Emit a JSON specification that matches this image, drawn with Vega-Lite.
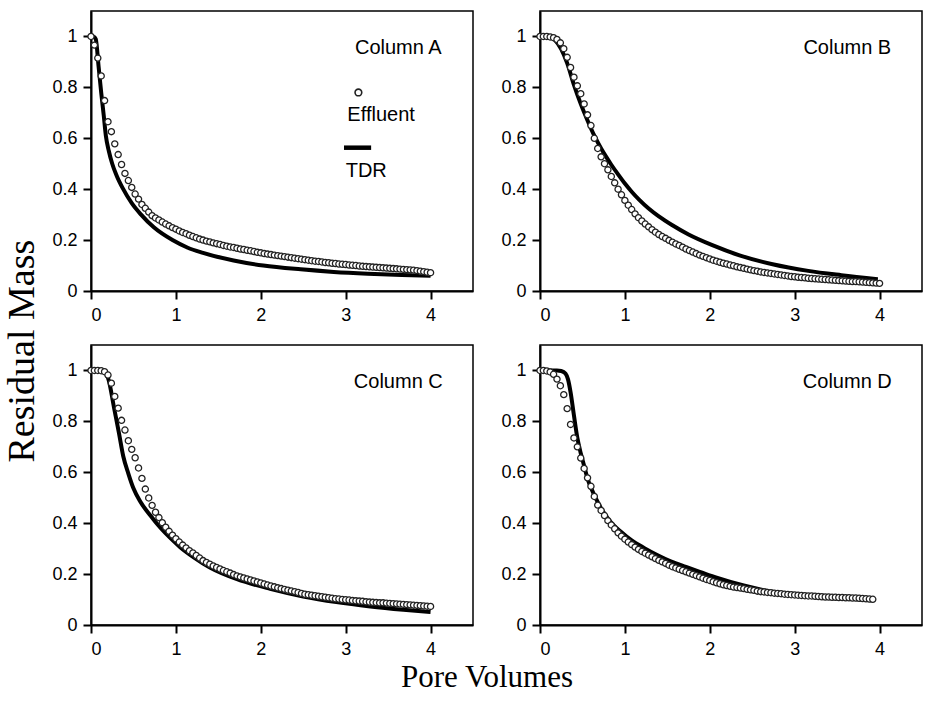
{
"$schema": "https://vega.github.io/schema/vega-lite/v6.json",
"background": "white",
"padding": {"left": 4, "top": 9, "right": 3, "bottom": 2},
"title": {"text": "Residual Mass", "orient": "left", "anchor": "middle", "font": "Liberation Serif", "fontSize": 38, "fontWeight": "normal", "color": "black", "offset": 9},
"data": {"values": [
{"p":"Column A","s":"Effluent","x":0,"y":1.0},{"p":"Column A","s":"Effluent","x":0.04,"y":0.966},{"p":"Column A","s":"Effluent","x":0.08,"y":0.915},{"p":"Column A","s":"Effluent","x":0.12,"y":0.845},{"p":"Column A","s":"Effluent","x":0.16,"y":0.748},{"p":"Column A","s":"Effluent","x":0.2,"y":0.665},{"p":"Column A","s":"Effluent","x":0.24,"y":0.626},{"p":"Column A","s":"Effluent","x":0.28,"y":0.578},{"p":"Column A","s":"Effluent","x":0.32,"y":0.536},{"p":"Column A","s":"Effluent","x":0.36,"y":0.497},{"p":"Column A","s":"Effluent","x":0.4,"y":0.462},{"p":"Column A","s":"Effluent","x":0.44,"y":0.434},{"p":"Column A","s":"Effluent","x":0.48,"y":0.407},{"p":"Column A","s":"Effluent","x":0.52,"y":0.381},{"p":"Column A","s":"Effluent","x":0.56,"y":0.361},{"p":"Column A","s":"Effluent","x":0.6,"y":0.34},{"p":"Column A","s":"Effluent","x":0.64,"y":0.325},{"p":"Column A","s":"Effluent","x":0.68,"y":0.31},{"p":"Column A","s":"Effluent","x":0.72,"y":0.296},{"p":"Column A","s":"Effluent","x":0.76,"y":0.287},{"p":"Column A","s":"Effluent","x":0.8,"y":0.279},{"p":"Column A","s":"Effluent","x":0.84,"y":0.271},{"p":"Column A","s":"Effluent","x":0.88,"y":0.263},{"p":"Column A","s":"Effluent","x":0.92,"y":0.256},{"p":"Column A","s":"Effluent","x":0.96,"y":0.249},{"p":"Column A","s":"Effluent","x":1,"y":0.243},{"p":"Column A","s":"Effluent","x":1.04,"y":0.236},{"p":"Column A","s":"Effluent","x":1.08,"y":0.23},{"p":"Column A","s":"Effluent","x":1.12,"y":0.225},{"p":"Column A","s":"Effluent","x":1.16,"y":0.219},{"p":"Column A","s":"Effluent","x":1.2,"y":0.214},{"p":"Column A","s":"Effluent","x":1.24,"y":0.209},{"p":"Column A","s":"Effluent","x":1.28,"y":0.204},{"p":"Column A","s":"Effluent","x":1.32,"y":0.2},{"p":"Column A","s":"Effluent","x":1.36,"y":0.196},{"p":"Column A","s":"Effluent","x":1.4,"y":0.193},{"p":"Column A","s":"Effluent","x":1.44,"y":0.189},{"p":"Column A","s":"Effluent","x":1.48,"y":0.186},{"p":"Column A","s":"Effluent","x":1.52,"y":0.183},{"p":"Column A","s":"Effluent","x":1.56,"y":0.179},{"p":"Column A","s":"Effluent","x":1.6,"y":0.176},{"p":"Column A","s":"Effluent","x":1.64,"y":0.173},{"p":"Column A","s":"Effluent","x":1.68,"y":0.171},{"p":"Column A","s":"Effluent","x":1.72,"y":0.168},{"p":"Column A","s":"Effluent","x":1.76,"y":0.165},{"p":"Column A","s":"Effluent","x":1.8,"y":0.163},{"p":"Column A","s":"Effluent","x":1.84,"y":0.16},{"p":"Column A","s":"Effluent","x":1.88,"y":0.158},{"p":"Column A","s":"Effluent","x":1.92,"y":0.155},{"p":"Column A","s":"Effluent","x":1.96,"y":0.152},{"p":"Column A","s":"Effluent","x":2,"y":0.15},{"p":"Column A","s":"Effluent","x":2.04,"y":0.147},{"p":"Column A","s":"Effluent","x":2.08,"y":0.145},{"p":"Column A","s":"Effluent","x":2.12,"y":0.143},{"p":"Column A","s":"Effluent","x":2.16,"y":0.141},{"p":"Column A","s":"Effluent","x":2.2,"y":0.139},{"p":"Column A","s":"Effluent","x":2.24,"y":0.137},{"p":"Column A","s":"Effluent","x":2.28,"y":0.135},{"p":"Column A","s":"Effluent","x":2.32,"y":0.133},{"p":"Column A","s":"Effluent","x":2.36,"y":0.131},{"p":"Column A","s":"Effluent","x":2.4,"y":0.129},{"p":"Column A","s":"Effluent","x":2.44,"y":0.127},{"p":"Column A","s":"Effluent","x":2.48,"y":0.125},{"p":"Column A","s":"Effluent","x":2.52,"y":0.123},{"p":"Column A","s":"Effluent","x":2.56,"y":0.121},{"p":"Column A","s":"Effluent","x":2.6,"y":0.119},{"p":"Column A","s":"Effluent","x":2.64,"y":0.117},{"p":"Column A","s":"Effluent","x":2.68,"y":0.116},{"p":"Column A","s":"Effluent","x":2.72,"y":0.114},{"p":"Column A","s":"Effluent","x":2.76,"y":0.112},{"p":"Column A","s":"Effluent","x":2.8,"y":0.111},{"p":"Column A","s":"Effluent","x":2.84,"y":0.109},{"p":"Column A","s":"Effluent","x":2.88,"y":0.108},{"p":"Column A","s":"Effluent","x":2.92,"y":0.106},{"p":"Column A","s":"Effluent","x":2.96,"y":0.105},{"p":"Column A","s":"Effluent","x":3,"y":0.104},{"p":"Column A","s":"Effluent","x":3.04,"y":0.102},{"p":"Column A","s":"Effluent","x":3.08,"y":0.101},{"p":"Column A","s":"Effluent","x":3.12,"y":0.1},{"p":"Column A","s":"Effluent","x":3.16,"y":0.098},{"p":"Column A","s":"Effluent","x":3.2,"y":0.097},{"p":"Column A","s":"Effluent","x":3.24,"y":0.096},{"p":"Column A","s":"Effluent","x":3.28,"y":0.095},{"p":"Column A","s":"Effluent","x":3.32,"y":0.094},{"p":"Column A","s":"Effluent","x":3.36,"y":0.093},{"p":"Column A","s":"Effluent","x":3.4,"y":0.092},{"p":"Column A","s":"Effluent","x":3.44,"y":0.091},{"p":"Column A","s":"Effluent","x":3.48,"y":0.09},{"p":"Column A","s":"Effluent","x":3.52,"y":0.089},{"p":"Column A","s":"Effluent","x":3.56,"y":0.088},{"p":"Column A","s":"Effluent","x":3.6,"y":0.087},{"p":"Column A","s":"Effluent","x":3.64,"y":0.086},{"p":"Column A","s":"Effluent","x":3.68,"y":0.085},{"p":"Column A","s":"Effluent","x":3.72,"y":0.084},{"p":"Column A","s":"Effluent","x":3.76,"y":0.083},{"p":"Column A","s":"Effluent","x":3.8,"y":0.082},{"p":"Column A","s":"Effluent","x":3.84,"y":0.08},{"p":"Column A","s":"Effluent","x":3.88,"y":0.078},{"p":"Column A","s":"Effluent","x":3.92,"y":0.076},{"p":"Column A","s":"Effluent","x":3.96,"y":0.074},{"p":"Column A","s":"Effluent","x":4,"y":0.072},
{"p":"Column A","s":"TDR","x":0.03,"y":1.0},{"p":"Column A","s":"TDR","x":0.056,"y":0.99},{"p":"Column A","s":"TDR","x":0.09,"y":0.88},{"p":"Column A","s":"TDR","x":0.12,"y":0.78},{"p":"Column A","s":"TDR","x":0.15,"y":0.69},{"p":"Column A","s":"TDR","x":0.175,"y":0.61},{"p":"Column A","s":"TDR","x":0.21,"y":0.55},{"p":"Column A","s":"TDR","x":0.25,"y":0.5},{"p":"Column A","s":"TDR","x":0.3,"y":0.455},{"p":"Column A","s":"TDR","x":0.38,"y":0.4},{"p":"Column A","s":"TDR","x":0.48,"y":0.345},{"p":"Column A","s":"TDR","x":0.59,"y":0.3},{"p":"Column A","s":"TDR","x":0.74,"y":0.25},{"p":"Column A","s":"TDR","x":0.96,"y":0.2},{"p":"Column A","s":"TDR","x":1.14,"y":0.17},{"p":"Column A","s":"TDR","x":1.32,"y":0.15},{"p":"Column A","s":"TDR","x":1.68,"y":0.12},{"p":"Column A","s":"TDR","x":2.03,"y":0.1},{"p":"Column A","s":"TDR","x":2.47,"y":0.085},{"p":"Column A","s":"TDR","x":2.86,"y":0.075},{"p":"Column A","s":"TDR","x":3.26,"y":0.068},{"p":"Column A","s":"TDR","x":3.66,"y":0.063},{"p":"Column A","s":"TDR","x":4.0,"y":0.06},
{"p":"Column B","s":"Effluent","x":0,"y":1.0},{"p":"Column B","s":"Effluent","x":0.04,"y":1.0},{"p":"Column B","s":"Effluent","x":0.08,"y":1.0},{"p":"Column B","s":"Effluent","x":0.12,"y":0.998},{"p":"Column B","s":"Effluent","x":0.16,"y":0.995},{"p":"Column B","s":"Effluent","x":0.2,"y":0.988},{"p":"Column B","s":"Effluent","x":0.24,"y":0.975},{"p":"Column B","s":"Effluent","x":0.28,"y":0.952},{"p":"Column B","s":"Effluent","x":0.32,"y":0.918},{"p":"Column B","s":"Effluent","x":0.36,"y":0.878},{"p":"Column B","s":"Effluent","x":0.4,"y":0.84},{"p":"Column B","s":"Effluent","x":0.44,"y":0.806},{"p":"Column B","s":"Effluent","x":0.48,"y":0.775},{"p":"Column B","s":"Effluent","x":0.52,"y":0.735},{"p":"Column B","s":"Effluent","x":0.56,"y":0.692},{"p":"Column B","s":"Effluent","x":0.6,"y":0.65},{"p":"Column B","s":"Effluent","x":0.64,"y":0.6},{"p":"Column B","s":"Effluent","x":0.68,"y":0.56},{"p":"Column B","s":"Effluent","x":0.72,"y":0.527},{"p":"Column B","s":"Effluent","x":0.76,"y":0.5},{"p":"Column B","s":"Effluent","x":0.8,"y":0.476},{"p":"Column B","s":"Effluent","x":0.84,"y":0.45},{"p":"Column B","s":"Effluent","x":0.88,"y":0.425},{"p":"Column B","s":"Effluent","x":0.92,"y":0.4},{"p":"Column B","s":"Effluent","x":0.96,"y":0.378},{"p":"Column B","s":"Effluent","x":1,"y":0.356},{"p":"Column B","s":"Effluent","x":1.04,"y":0.337},{"p":"Column B","s":"Effluent","x":1.08,"y":0.32},{"p":"Column B","s":"Effluent","x":1.12,"y":0.303},{"p":"Column B","s":"Effluent","x":1.16,"y":0.288},{"p":"Column B","s":"Effluent","x":1.2,"y":0.275},{"p":"Column B","s":"Effluent","x":1.24,"y":0.263},{"p":"Column B","s":"Effluent","x":1.28,"y":0.252},{"p":"Column B","s":"Effluent","x":1.32,"y":0.241},{"p":"Column B","s":"Effluent","x":1.36,"y":0.231},{"p":"Column B","s":"Effluent","x":1.4,"y":0.222},{"p":"Column B","s":"Effluent","x":1.44,"y":0.214},{"p":"Column B","s":"Effluent","x":1.48,"y":0.207},{"p":"Column B","s":"Effluent","x":1.52,"y":0.199},{"p":"Column B","s":"Effluent","x":1.56,"y":0.192},{"p":"Column B","s":"Effluent","x":1.6,"y":0.185},{"p":"Column B","s":"Effluent","x":1.64,"y":0.179},{"p":"Column B","s":"Effluent","x":1.68,"y":0.172},{"p":"Column B","s":"Effluent","x":1.72,"y":0.165},{"p":"Column B","s":"Effluent","x":1.76,"y":0.159},{"p":"Column B","s":"Effluent","x":1.8,"y":0.153},{"p":"Column B","s":"Effluent","x":1.84,"y":0.147},{"p":"Column B","s":"Effluent","x":1.88,"y":0.141},{"p":"Column B","s":"Effluent","x":1.92,"y":0.136},{"p":"Column B","s":"Effluent","x":1.96,"y":0.131},{"p":"Column B","s":"Effluent","x":2,"y":0.126},{"p":"Column B","s":"Effluent","x":2.04,"y":0.121},{"p":"Column B","s":"Effluent","x":2.08,"y":0.117},{"p":"Column B","s":"Effluent","x":2.12,"y":0.113},{"p":"Column B","s":"Effluent","x":2.16,"y":0.109},{"p":"Column B","s":"Effluent","x":2.2,"y":0.106},{"p":"Column B","s":"Effluent","x":2.24,"y":0.102},{"p":"Column B","s":"Effluent","x":2.28,"y":0.099},{"p":"Column B","s":"Effluent","x":2.32,"y":0.095},{"p":"Column B","s":"Effluent","x":2.36,"y":0.092},{"p":"Column B","s":"Effluent","x":2.4,"y":0.089},{"p":"Column B","s":"Effluent","x":2.44,"y":0.086},{"p":"Column B","s":"Effluent","x":2.48,"y":0.083},{"p":"Column B","s":"Effluent","x":2.52,"y":0.08},{"p":"Column B","s":"Effluent","x":2.56,"y":0.078},{"p":"Column B","s":"Effluent","x":2.6,"y":0.075},{"p":"Column B","s":"Effluent","x":2.64,"y":0.073},{"p":"Column B","s":"Effluent","x":2.68,"y":0.071},{"p":"Column B","s":"Effluent","x":2.72,"y":0.069},{"p":"Column B","s":"Effluent","x":2.76,"y":0.067},{"p":"Column B","s":"Effluent","x":2.8,"y":0.065},{"p":"Column B","s":"Effluent","x":2.84,"y":0.063},{"p":"Column B","s":"Effluent","x":2.88,"y":0.061},{"p":"Column B","s":"Effluent","x":2.92,"y":0.059},{"p":"Column B","s":"Effluent","x":2.96,"y":0.057},{"p":"Column B","s":"Effluent","x":3,"y":0.056},{"p":"Column B","s":"Effluent","x":3.04,"y":0.054},{"p":"Column B","s":"Effluent","x":3.08,"y":0.053},{"p":"Column B","s":"Effluent","x":3.12,"y":0.052},{"p":"Column B","s":"Effluent","x":3.16,"y":0.05},{"p":"Column B","s":"Effluent","x":3.2,"y":0.049},{"p":"Column B","s":"Effluent","x":3.24,"y":0.048},{"p":"Column B","s":"Effluent","x":3.28,"y":0.047},{"p":"Column B","s":"Effluent","x":3.32,"y":0.046},{"p":"Column B","s":"Effluent","x":3.36,"y":0.045},{"p":"Column B","s":"Effluent","x":3.4,"y":0.044},{"p":"Column B","s":"Effluent","x":3.44,"y":0.043},{"p":"Column B","s":"Effluent","x":3.48,"y":0.042},{"p":"Column B","s":"Effluent","x":3.52,"y":0.041},{"p":"Column B","s":"Effluent","x":3.56,"y":0.04},{"p":"Column B","s":"Effluent","x":3.6,"y":0.039},{"p":"Column B","s":"Effluent","x":3.64,"y":0.038},{"p":"Column B","s":"Effluent","x":3.68,"y":0.037},{"p":"Column B","s":"Effluent","x":3.72,"y":0.037},{"p":"Column B","s":"Effluent","x":3.76,"y":0.036},{"p":"Column B","s":"Effluent","x":3.8,"y":0.035},{"p":"Column B","s":"Effluent","x":3.84,"y":0.034},{"p":"Column B","s":"Effluent","x":3.88,"y":0.033},{"p":"Column B","s":"Effluent","x":3.92,"y":0.032},{"p":"Column B","s":"Effluent","x":3.96,"y":0.031},{"p":"Column B","s":"Effluent","x":4,"y":0.03},
{"p":"Column B","s":"TDR","x":0,"y":1.0},{"p":"Column B","s":"TDR","x":0.1,"y":1.0},{"p":"Column B","s":"TDR","x":0.18,"y":0.985},{"p":"Column B","s":"TDR","x":0.25,"y":0.95},{"p":"Column B","s":"TDR","x":0.32,"y":0.895},{"p":"Column B","s":"TDR","x":0.4,"y":0.81},{"p":"Column B","s":"TDR","x":0.48,"y":0.735},{"p":"Column B","s":"TDR","x":0.56,"y":0.67},{"p":"Column B","s":"TDR","x":0.64,"y":0.61},{"p":"Column B","s":"TDR","x":0.72,"y":0.56},{"p":"Column B","s":"TDR","x":0.78,"y":0.527},{"p":"Column B","s":"TDR","x":0.84,"y":0.496},{"p":"Column B","s":"TDR","x":0.92,"y":0.458},{"p":"Column B","s":"TDR","x":1.0,"y":0.422},{"p":"Column B","s":"TDR","x":1.08,"y":0.39},{"p":"Column B","s":"TDR","x":1.17,"y":0.358},{"p":"Column B","s":"TDR","x":1.28,"y":0.324},{"p":"Column B","s":"TDR","x":1.4,"y":0.293},{"p":"Column B","s":"TDR","x":1.55,"y":0.26},{"p":"Column B","s":"TDR","x":1.75,"y":0.222},{"p":"Column B","s":"TDR","x":2.03,"y":0.18},{"p":"Column B","s":"TDR","x":2.35,"y":0.14},{"p":"Column B","s":"TDR","x":2.74,"y":0.105},{"p":"Column B","s":"TDR","x":3.16,"y":0.079},{"p":"Column B","s":"TDR","x":3.55,"y":0.062},{"p":"Column B","s":"TDR","x":3.98,"y":0.046},
{"p":"Column C","s":"Effluent","x":0,"y":1.0},{"p":"Column C","s":"Effluent","x":0.04,"y":1.0},{"p":"Column C","s":"Effluent","x":0.08,"y":1.0},{"p":"Column C","s":"Effluent","x":0.12,"y":0.999},{"p":"Column C","s":"Effluent","x":0.16,"y":0.995},{"p":"Column C","s":"Effluent","x":0.2,"y":0.982},{"p":"Column C","s":"Effluent","x":0.24,"y":0.95},{"p":"Column C","s":"Effluent","x":0.28,"y":0.898},{"p":"Column C","s":"Effluent","x":0.32,"y":0.852},{"p":"Column C","s":"Effluent","x":0.36,"y":0.804},{"p":"Column C","s":"Effluent","x":0.4,"y":0.766},{"p":"Column C","s":"Effluent","x":0.44,"y":0.724},{"p":"Column C","s":"Effluent","x":0.48,"y":0.69},{"p":"Column C","s":"Effluent","x":0.52,"y":0.657},{"p":"Column C","s":"Effluent","x":0.56,"y":0.617},{"p":"Column C","s":"Effluent","x":0.6,"y":0.576},{"p":"Column C","s":"Effluent","x":0.64,"y":0.534},{"p":"Column C","s":"Effluent","x":0.68,"y":0.499},{"p":"Column C","s":"Effluent","x":0.72,"y":0.47},{"p":"Column C","s":"Effluent","x":0.76,"y":0.443},{"p":"Column C","s":"Effluent","x":0.8,"y":0.422},{"p":"Column C","s":"Effluent","x":0.84,"y":0.402},{"p":"Column C","s":"Effluent","x":0.88,"y":0.384},{"p":"Column C","s":"Effluent","x":0.92,"y":0.368},{"p":"Column C","s":"Effluent","x":0.96,"y":0.353},{"p":"Column C","s":"Effluent","x":1,"y":0.339},{"p":"Column C","s":"Effluent","x":1.04,"y":0.326},{"p":"Column C","s":"Effluent","x":1.08,"y":0.314},{"p":"Column C","s":"Effluent","x":1.12,"y":0.303},{"p":"Column C","s":"Effluent","x":1.16,"y":0.292},{"p":"Column C","s":"Effluent","x":1.2,"y":0.283},{"p":"Column C","s":"Effluent","x":1.24,"y":0.273},{"p":"Column C","s":"Effluent","x":1.28,"y":0.263},{"p":"Column C","s":"Effluent","x":1.32,"y":0.253},{"p":"Column C","s":"Effluent","x":1.36,"y":0.246},{"p":"Column C","s":"Effluent","x":1.4,"y":0.239},{"p":"Column C","s":"Effluent","x":1.44,"y":0.232},{"p":"Column C","s":"Effluent","x":1.48,"y":0.226},{"p":"Column C","s":"Effluent","x":1.52,"y":0.22},{"p":"Column C","s":"Effluent","x":1.56,"y":0.214},{"p":"Column C","s":"Effluent","x":1.6,"y":0.209},{"p":"Column C","s":"Effluent","x":1.64,"y":0.204},{"p":"Column C","s":"Effluent","x":1.68,"y":0.198},{"p":"Column C","s":"Effluent","x":1.72,"y":0.193},{"p":"Column C","s":"Effluent","x":1.76,"y":0.189},{"p":"Column C","s":"Effluent","x":1.8,"y":0.185},{"p":"Column C","s":"Effluent","x":1.84,"y":0.181},{"p":"Column C","s":"Effluent","x":1.88,"y":0.177},{"p":"Column C","s":"Effluent","x":1.92,"y":0.173},{"p":"Column C","s":"Effluent","x":1.96,"y":0.169},{"p":"Column C","s":"Effluent","x":2,"y":0.165},{"p":"Column C","s":"Effluent","x":2.04,"y":0.161},{"p":"Column C","s":"Effluent","x":2.08,"y":0.157},{"p":"Column C","s":"Effluent","x":2.12,"y":0.153},{"p":"Column C","s":"Effluent","x":2.16,"y":0.15},{"p":"Column C","s":"Effluent","x":2.2,"y":0.146},{"p":"Column C","s":"Effluent","x":2.24,"y":0.143},{"p":"Column C","s":"Effluent","x":2.28,"y":0.14},{"p":"Column C","s":"Effluent","x":2.32,"y":0.137},{"p":"Column C","s":"Effluent","x":2.36,"y":0.134},{"p":"Column C","s":"Effluent","x":2.4,"y":0.131},{"p":"Column C","s":"Effluent","x":2.44,"y":0.128},{"p":"Column C","s":"Effluent","x":2.48,"y":0.124},{"p":"Column C","s":"Effluent","x":2.52,"y":0.121},{"p":"Column C","s":"Effluent","x":2.56,"y":0.119},{"p":"Column C","s":"Effluent","x":2.6,"y":0.117},{"p":"Column C","s":"Effluent","x":2.64,"y":0.115},{"p":"Column C","s":"Effluent","x":2.68,"y":0.113},{"p":"Column C","s":"Effluent","x":2.72,"y":0.111},{"p":"Column C","s":"Effluent","x":2.76,"y":0.109},{"p":"Column C","s":"Effluent","x":2.8,"y":0.107},{"p":"Column C","s":"Effluent","x":2.84,"y":0.105},{"p":"Column C","s":"Effluent","x":2.88,"y":0.103},{"p":"Column C","s":"Effluent","x":2.92,"y":0.102},{"p":"Column C","s":"Effluent","x":2.96,"y":0.1},{"p":"Column C","s":"Effluent","x":3,"y":0.099},{"p":"Column C","s":"Effluent","x":3.04,"y":0.098},{"p":"Column C","s":"Effluent","x":3.08,"y":0.096},{"p":"Column C","s":"Effluent","x":3.12,"y":0.095},{"p":"Column C","s":"Effluent","x":3.16,"y":0.094},{"p":"Column C","s":"Effluent","x":3.2,"y":0.093},{"p":"Column C","s":"Effluent","x":3.24,"y":0.091},{"p":"Column C","s":"Effluent","x":3.28,"y":0.09},{"p":"Column C","s":"Effluent","x":3.32,"y":0.089},{"p":"Column C","s":"Effluent","x":3.36,"y":0.088},{"p":"Column C","s":"Effluent","x":3.4,"y":0.087},{"p":"Column C","s":"Effluent","x":3.44,"y":0.087},{"p":"Column C","s":"Effluent","x":3.48,"y":0.086},{"p":"Column C","s":"Effluent","x":3.52,"y":0.085},{"p":"Column C","s":"Effluent","x":3.56,"y":0.084},{"p":"Column C","s":"Effluent","x":3.6,"y":0.083},{"p":"Column C","s":"Effluent","x":3.64,"y":0.082},{"p":"Column C","s":"Effluent","x":3.68,"y":0.081},{"p":"Column C","s":"Effluent","x":3.72,"y":0.08},{"p":"Column C","s":"Effluent","x":3.76,"y":0.079},{"p":"Column C","s":"Effluent","x":3.8,"y":0.078},{"p":"Column C","s":"Effluent","x":3.84,"y":0.077},{"p":"Column C","s":"Effluent","x":3.88,"y":0.076},{"p":"Column C","s":"Effluent","x":3.92,"y":0.075},{"p":"Column C","s":"Effluent","x":3.96,"y":0.074},{"p":"Column C","s":"Effluent","x":4,"y":0.073},
{"p":"Column C","s":"TDR","x":0,"y":1.0},{"p":"Column C","s":"TDR","x":0.15,"y":0.997},{"p":"Column C","s":"TDR","x":0.21,"y":0.96},{"p":"Column C","s":"TDR","x":0.27,"y":0.856},{"p":"Column C","s":"TDR","x":0.33,"y":0.753},{"p":"Column C","s":"TDR","x":0.38,"y":0.663},{"p":"Column C","s":"TDR","x":0.44,"y":0.595},{"p":"Column C","s":"TDR","x":0.5,"y":0.537},{"p":"Column C","s":"TDR","x":0.58,"y":0.485},{"p":"Column C","s":"TDR","x":0.7,"y":0.43},{"p":"Column C","s":"TDR","x":0.82,"y":0.381},{"p":"Column C","s":"TDR","x":0.93,"y":0.343},{"p":"Column C","s":"TDR","x":1.05,"y":0.306},{"p":"Column C","s":"TDR","x":1.21,"y":0.266},{"p":"Column C","s":"TDR","x":1.4,"y":0.226},{"p":"Column C","s":"TDR","x":1.72,"y":0.18},{"p":"Column C","s":"TDR","x":2.11,"y":0.142},{"p":"Column C","s":"TDR","x":2.5,"y":0.112},{"p":"Column C","s":"TDR","x":2.89,"y":0.09},{"p":"Column C","s":"TDR","x":3.29,"y":0.073},{"p":"Column C","s":"TDR","x":3.68,"y":0.06},{"p":"Column C","s":"TDR","x":4.0,"y":0.051},
{"p":"Column D","s":"Effluent","x":0,"y":1.0},{"p":"Column D","s":"Effluent","x":0.04,"y":1.0},{"p":"Column D","s":"Effluent","x":0.08,"y":0.998},{"p":"Column D","s":"Effluent","x":0.12,"y":0.994},{"p":"Column D","s":"Effluent","x":0.16,"y":0.985},{"p":"Column D","s":"Effluent","x":0.2,"y":0.966},{"p":"Column D","s":"Effluent","x":0.24,"y":0.94},{"p":"Column D","s":"Effluent","x":0.28,"y":0.905},{"p":"Column D","s":"Effluent","x":0.32,"y":0.85},{"p":"Column D","s":"Effluent","x":0.36,"y":0.788},{"p":"Column D","s":"Effluent","x":0.4,"y":0.735},{"p":"Column D","s":"Effluent","x":0.44,"y":0.7},{"p":"Column D","s":"Effluent","x":0.48,"y":0.656},{"p":"Column D","s":"Effluent","x":0.52,"y":0.615},{"p":"Column D","s":"Effluent","x":0.56,"y":0.578},{"p":"Column D","s":"Effluent","x":0.6,"y":0.545},{"p":"Column D","s":"Effluent","x":0.64,"y":0.505},{"p":"Column D","s":"Effluent","x":0.68,"y":0.471},{"p":"Column D","s":"Effluent","x":0.72,"y":0.45},{"p":"Column D","s":"Effluent","x":0.76,"y":0.43},{"p":"Column D","s":"Effluent","x":0.8,"y":0.41},{"p":"Column D","s":"Effluent","x":0.84,"y":0.393},{"p":"Column D","s":"Effluent","x":0.88,"y":0.378},{"p":"Column D","s":"Effluent","x":0.92,"y":0.362},{"p":"Column D","s":"Effluent","x":0.96,"y":0.349},{"p":"Column D","s":"Effluent","x":1,"y":0.337},{"p":"Column D","s":"Effluent","x":1.04,"y":0.326},{"p":"Column D","s":"Effluent","x":1.08,"y":0.316},{"p":"Column D","s":"Effluent","x":1.12,"y":0.306},{"p":"Column D","s":"Effluent","x":1.16,"y":0.297},{"p":"Column D","s":"Effluent","x":1.2,"y":0.289},{"p":"Column D","s":"Effluent","x":1.24,"y":0.282},{"p":"Column D","s":"Effluent","x":1.28,"y":0.275},{"p":"Column D","s":"Effluent","x":1.32,"y":0.268},{"p":"Column D","s":"Effluent","x":1.36,"y":0.261},{"p":"Column D","s":"Effluent","x":1.4,"y":0.254},{"p":"Column D","s":"Effluent","x":1.44,"y":0.248},{"p":"Column D","s":"Effluent","x":1.48,"y":0.242},{"p":"Column D","s":"Effluent","x":1.52,"y":0.235},{"p":"Column D","s":"Effluent","x":1.56,"y":0.229},{"p":"Column D","s":"Effluent","x":1.6,"y":0.224},{"p":"Column D","s":"Effluent","x":1.64,"y":0.219},{"p":"Column D","s":"Effluent","x":1.68,"y":0.214},{"p":"Column D","s":"Effluent","x":1.72,"y":0.209},{"p":"Column D","s":"Effluent","x":1.76,"y":0.204},{"p":"Column D","s":"Effluent","x":1.8,"y":0.199},{"p":"Column D","s":"Effluent","x":1.84,"y":0.194},{"p":"Column D","s":"Effluent","x":1.88,"y":0.189},{"p":"Column D","s":"Effluent","x":1.92,"y":0.184},{"p":"Column D","s":"Effluent","x":1.96,"y":0.179},{"p":"Column D","s":"Effluent","x":2,"y":0.175},{"p":"Column D","s":"Effluent","x":2.04,"y":0.17},{"p":"Column D","s":"Effluent","x":2.08,"y":0.166},{"p":"Column D","s":"Effluent","x":2.12,"y":0.162},{"p":"Column D","s":"Effluent","x":2.16,"y":0.158},{"p":"Column D","s":"Effluent","x":2.2,"y":0.155},{"p":"Column D","s":"Effluent","x":2.24,"y":0.152},{"p":"Column D","s":"Effluent","x":2.28,"y":0.149},{"p":"Column D","s":"Effluent","x":2.32,"y":0.147},{"p":"Column D","s":"Effluent","x":2.36,"y":0.145},{"p":"Column D","s":"Effluent","x":2.4,"y":0.143},{"p":"Column D","s":"Effluent","x":2.44,"y":0.14},{"p":"Column D","s":"Effluent","x":2.48,"y":0.138},{"p":"Column D","s":"Effluent","x":2.52,"y":0.136},{"p":"Column D","s":"Effluent","x":2.56,"y":0.133},{"p":"Column D","s":"Effluent","x":2.6,"y":0.131},{"p":"Column D","s":"Effluent","x":2.64,"y":0.13},{"p":"Column D","s":"Effluent","x":2.68,"y":0.128},{"p":"Column D","s":"Effluent","x":2.72,"y":0.127},{"p":"Column D","s":"Effluent","x":2.76,"y":0.125},{"p":"Column D","s":"Effluent","x":2.8,"y":0.124},{"p":"Column D","s":"Effluent","x":2.84,"y":0.123},{"p":"Column D","s":"Effluent","x":2.88,"y":0.121},{"p":"Column D","s":"Effluent","x":2.92,"y":0.12},{"p":"Column D","s":"Effluent","x":2.96,"y":0.119},{"p":"Column D","s":"Effluent","x":3,"y":0.118},{"p":"Column D","s":"Effluent","x":3.04,"y":0.117},{"p":"Column D","s":"Effluent","x":3.08,"y":0.116},{"p":"Column D","s":"Effluent","x":3.12,"y":0.115},{"p":"Column D","s":"Effluent","x":3.16,"y":0.114},{"p":"Column D","s":"Effluent","x":3.2,"y":0.114},{"p":"Column D","s":"Effluent","x":3.24,"y":0.113},{"p":"Column D","s":"Effluent","x":3.28,"y":0.112},{"p":"Column D","s":"Effluent","x":3.32,"y":0.111},{"p":"Column D","s":"Effluent","x":3.36,"y":0.11},{"p":"Column D","s":"Effluent","x":3.4,"y":0.11},{"p":"Column D","s":"Effluent","x":3.44,"y":0.109},{"p":"Column D","s":"Effluent","x":3.48,"y":0.109},{"p":"Column D","s":"Effluent","x":3.52,"y":0.108},{"p":"Column D","s":"Effluent","x":3.56,"y":0.108},{"p":"Column D","s":"Effluent","x":3.6,"y":0.107},{"p":"Column D","s":"Effluent","x":3.64,"y":0.107},{"p":"Column D","s":"Effluent","x":3.68,"y":0.106},{"p":"Column D","s":"Effluent","x":3.72,"y":0.106},{"p":"Column D","s":"Effluent","x":3.76,"y":0.105},{"p":"Column D","s":"Effluent","x":3.8,"y":0.104},{"p":"Column D","s":"Effluent","x":3.84,"y":0.103},{"p":"Column D","s":"Effluent","x":3.88,"y":0.102},{"p":"Column D","s":"Effluent","x":3.92,"y":0.101},
{"p":"Column D","s":"TDR","x":0,"y":1.0},{"p":"Column D","s":"TDR","x":0.1,"y":1.0},{"p":"Column D","s":"TDR","x":0.2,"y":1.0},{"p":"Column D","s":"TDR","x":0.25,"y":0.998},{"p":"Column D","s":"TDR","x":0.3,"y":0.988},{"p":"Column D","s":"TDR","x":0.33,"y":0.965},{"p":"Column D","s":"TDR","x":0.36,"y":0.915},{"p":"Column D","s":"TDR","x":0.4,"y":0.823},{"p":"Column D","s":"TDR","x":0.44,"y":0.735},{"p":"Column D","s":"TDR","x":0.48,"y":0.675},{"p":"Column D","s":"TDR","x":0.52,"y":0.625},{"p":"Column D","s":"TDR","x":0.56,"y":0.575},{"p":"Column D","s":"TDR","x":0.64,"y":0.51},{"p":"Column D","s":"TDR","x":0.72,"y":0.458},{"p":"Column D","s":"TDR","x":0.82,"y":0.41},{"p":"Column D","s":"TDR","x":0.95,"y":0.367},{"p":"Column D","s":"TDR","x":1.08,"y":0.332},{"p":"Column D","s":"TDR","x":1.23,"y":0.302},{"p":"Column D","s":"TDR","x":1.38,"y":0.275},{"p":"Column D","s":"TDR","x":1.54,"y":0.25},{"p":"Column D","s":"TDR","x":1.72,"y":0.228},{"p":"Column D","s":"TDR","x":1.89,"y":0.208},{"p":"Column D","s":"TDR","x":2.09,"y":0.185},{"p":"Column D","s":"TDR","x":2.4,"y":0.155},{"p":"Column D","s":"TDR","x":2.7,"y":0.133},{"p":"Column D","s":"TDR","x":2.99,"y":0.12},{"p":"Column D","s":"TDR","x":3.4,"y":0.108},{"p":"Column D","s":"TDR","x":3.78,"y":0.1},{"p":"Column D","s":"TDR","x":3.93,"y":0.096}
]},
"facet": {"field": "p", "type": "nominal", "header": {"title": "Pore Volumes", "titleOrient": "bottom", "labels": false, "labelExpr": "''", "labelFontSize": 1, "labelPadding": 0, "titleFont": "Liberation Serif", "titleFontSize": 31, "titleFontWeight": "normal", "titleColor": "black", "titlePadding": 4}},
"columns": 2,
"spacing": {"row": 18, "column": 26},
"resolve": {"axis": {"x": "independent", "y": "independent"}},
"spec": {
  "width": 382,
  "height": 280,
  "layer": [
    {
      "transform": [{"filter": "datum.s === 'TDR'"}],
      "mark": {"type": "line", "color": "black", "strokeWidth": 4, "interpolate": "monotone"},
      "encoding": {
        "x": {"field": "x", "type": "quantitative", "title": null, "scale": {"domain": [0, 4.5], "nice": false}, "axis": {"values": [0, 1, 2, 3, 4], "format": "~g"}},
        "y": {"field": "y", "type": "quantitative", "title": null, "scale": {"domain": [0, 1.1], "nice": false}, "axis": {"values": [0, 0.2, 0.4, 0.6, 0.8, 1], "format": "~g"}}
      }
    },
    {
      "transform": [{"filter": "datum.s === 'Effluent'"}],
      "mark": {"type": "point", "shape": "circle", "filled": false, "color": "#222222", "fill": "white", "strokeWidth": 1.3, "size": 38, "opacity": 1},
      "encoding": {
        "x": {"field": "x", "type": "quantitative"},
        "y": {"field": "y", "type": "quantitative"}
      }
    },
    {
      "transform": [{"filter": "datum.s === 'Effluent' && datum.x === 0"}],
      "mark": {"type": "text", "font": "Liberation Sans", "fontSize": 20, "color": "black", "align": "center", "baseline": "middle"},
      "encoding": {
        "x": {"datum": 3.62},
        "y": {"datum": 0.955},
        "text": {"field": "p", "type": "nominal"}
      }
    },
    {
      "transform": [{"filter": "datum.p === 'Column A' && datum.s === 'Effluent' && datum.x === 0"}],
      "layer": [
        {
          "mark": {"type": "point", "shape": "circle", "filled": false, "color": "#222222", "fill": "white", "strokeWidth": 1.6, "size": 45, "opacity": 1},
          "encoding": {"x": {"datum": 3.15}, "y": {"datum": 0.78}}
        },
        {
          "mark": {"type": "text", "text": "Effluent", "font": "Liberation Sans", "fontSize": 20, "color": "black", "align": "left", "baseline": "middle"},
          "encoding": {"x": {"datum": 3.02}, "y": {"datum": 0.69}}
        },
        {
          "mark": {"type": "rule", "color": "black", "strokeWidth": 4.5},
          "encoding": {"x": {"datum": 2.98}, "x2": {"datum": 3.3}, "y": {"datum": 0.563}}
        },
        {
          "mark": {"type": "text", "text": "TDR", "font": "Liberation Sans", "fontSize": 20, "color": "black", "align": "left", "baseline": "middle"},
          "encoding": {"x": {"datum": 3.0}, "y": {"datum": 0.472}}
        }
      ]
    }
  ]
},
"config": {
  "view": {"stroke": "black", "strokeWidth": 1.5},
  "header": {"labels": false},
  "headerFacet": {"labels": false},
  "axis": {"grid": false, "domainColor": "black", "domainWidth": 2, "tickColor": "black", "tickWidth": 2, "tickSize": 8, "labelFont": "Liberation Sans", "labelFontSize": 18, "labelColor": "black"},
  "axisX": {"labelPadding": 7},
  "axisY": {"labelPadding": 6}
}
}
